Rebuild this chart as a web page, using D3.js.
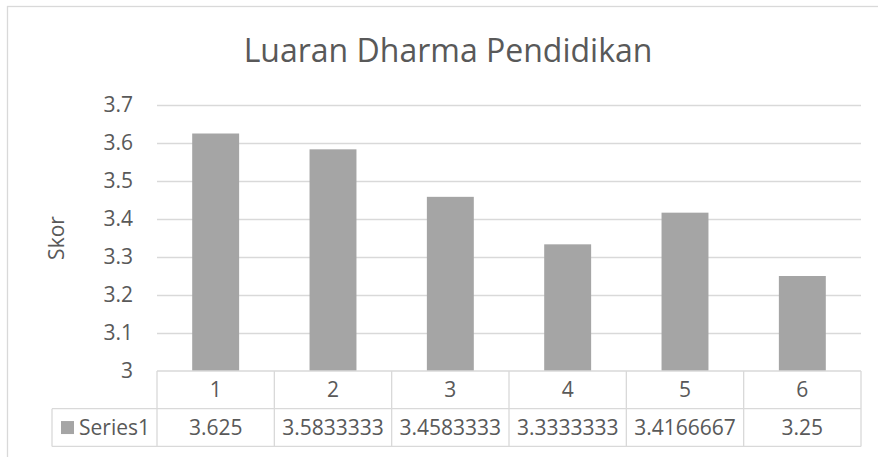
<!DOCTYPE html>
<html>
<head>
<meta charset="utf-8">
<script src="https://cdn.jsdelivr.net/npm/d3@7"></script>
<style>
  body { margin: 0; background: #fff; }
  text { font-family: "Open Sans", "Segoe UI", sans-serif; fill: #595959; }
</style>
</head>
<body>
<svg id="chart"></svg>
<script>
// data
var title = "Luaran Dharma Pendidikan"
var yLabel = "Skor"
var seriesName = "Series1"
var categories = ["1", "2", "3", "4", "5", "6"]
var values = [3.625, 3.5833333, 3.4583333, 3.3333333, 3.4166667, 3.25]
var yTicks = [3, 3.1, 3.2, 3.3, 3.4, 3.5, 3.6, 3.7]

var screen = {width: 878, height: 457}
var plot = {left: 157, right: 861, top: 105, bottom: 371}
var rowH = 37.7
var fontSize = 21

var svg = d3.select("#chart")
    .attr("width", screen.width)
    .attr("height", screen.height)

// chart frame (runs off the right and bottom edge)
svg.append("rect")
    .attr("x", 7.5).attr("y", 6.5)
    .attr("width", 900).attr("height", 500)
    .attr("fill", "#fff")
    .attr("stroke", "#d9d9d9")
    .attr("stroke-width", 1.3)

var xScale = d3.scaleBand()
    .domain(categories)
    .range([plot.left, plot.right])
    .paddingInner(0.6)
    .paddingOuter(0.3)

var yScale = d3.scaleLinear()
    .domain([3, 3.7])
    .range([plot.bottom, plot.top])

// gridlines
svg.append("g")
    .attr("class", "grid")
    .attr("transform", "translate(" + plot.left + ",0)")
    .call(d3.axisLeft(yScale).tickValues(yTicks.slice(1)).tickSize(-(plot.right - plot.left)).tickFormat(""))
    .call(function(g) {
        g.select(".domain").remove()
        g.selectAll("line").attr("stroke", "#d9d9d9").attr("stroke-width", 1.3)
    })

// y tick labels
svg.append("g")
    .attr("transform", "translate(" + (plot.left - 24) + ",0)")
    .call(d3.axisLeft(yScale).tickValues(yTicks).tickSize(0).tickPadding(0).tickFormat(d3.format("~g")))
    .call(function(g) {
        g.select(".domain").remove()
        g.selectAll("text")
            .attr("font-size", fontSize)
            .attr("font-family", null)
            .attr("fill", "#595959")
    })

// bars
svg.append("g")
    .selectAll("rect")
    .data(values)
    .enter()
    .append("rect")
    .attr("x", function(d, i) { return xScale(categories[i]) })
    .attr("y", function(d) { return yScale(d) })
    .attr("width", xScale.bandwidth())
    .attr("height", function(d) { return yScale(3) - yScale(d) })
    .attr("fill", "#a5a5a5")

// title
svg.append("text")
    .attr("x", 448).attr("y", 62)
    .attr("text-anchor", "middle")
    .attr("font-size", 32)
    .text(title)

// y axis title
svg.append("text")
    .attr("transform", "translate(64," + ((plot.top + plot.bottom) / 2) + ") rotate(-90)")
    .attr("text-anchor", "middle")
    .attr("font-size", fontSize)
    .text(yLabel)

// data table
var table = svg.append("g")
var step = xScale.step()
var tableLeft = 52
var lineColor = "#d9d9d9"

function hline(x1, x2, y) {
    table.append("line").attr("x1", x1).attr("x2", x2).attr("y1", y).attr("y2", y)
        .attr("stroke", lineColor).attr("stroke-width", 1.3)
}
function vline(x, y1, y2) {
    table.append("line").attr("x1", x).attr("x2", x).attr("y1", y1).attr("y2", y2)
        .attr("stroke", lineColor).attr("stroke-width", 1.3)
}

var r0 = plot.bottom, r1 = r0 + rowH, r2 = r1 + rowH
hline(plot.left, plot.right, r0)
hline(tableLeft, plot.right, r1)
hline(tableLeft, plot.right, r2)
vline(tableLeft, r1, r2)
categories.forEach(function(c, i) { vline(plot.left + i * step, r0, r2) })
vline(plot.right, r0, r2)

table.selectAll(".cat")
    .data(categories)
    .enter()
    .append("text")
    .attr("class", "cat")
    .attr("x", function(d) { return xScale(d) + xScale.bandwidth() / 2 })
    .attr("y", (r0 + r1) / 2)
    .attr("dy", "0.36em")
    .attr("text-anchor", "middle")
    .attr("font-size", fontSize)
    .text(function(d) { return d })

var fmt = d3.format(".8~g")
table.selectAll(".val")
    .data(values)
    .enter()
    .append("text")
    .attr("class", "val")
    .attr("x", function(d, i) { return xScale(categories[i]) + xScale.bandwidth() / 2 })
    .attr("y", (r1 + r2) / 2)
    .attr("dy", "0.36em")
    .attr("text-anchor", "middle")
    .attr("font-size", fontSize)
    .text(function(d) { return fmt(d) })

// legend key + series name
table.append("rect")
    .attr("x", 61).attr("y", (r1 + r2) / 2 - 6.5)
    .attr("width", 13).attr("height", 13)
    .attr("fill", "#a5a5a5")
table.append("text")
    .attr("x", 79).attr("y", (r1 + r2) / 2)
    .attr("dy", "0.36em")
    .attr("font-size", fontSize)
    .text(seriesName)
</script>
</body>
</html>
